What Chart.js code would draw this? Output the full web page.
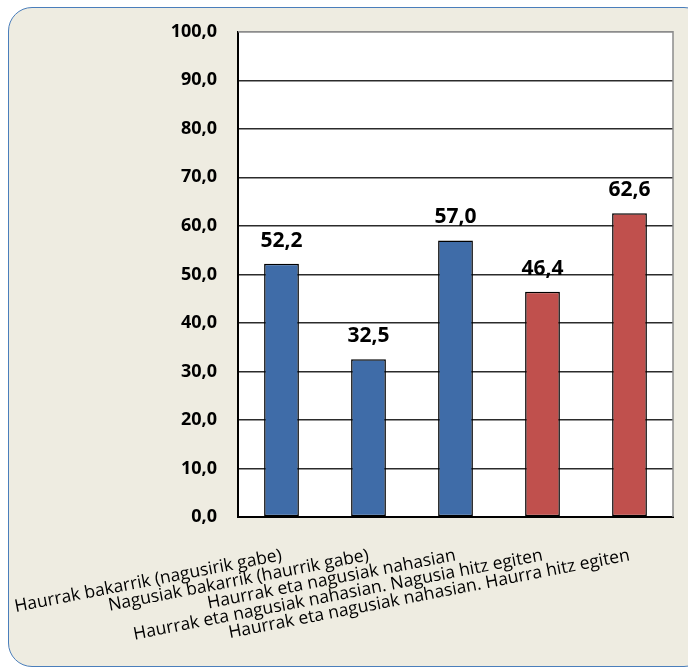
<!DOCTYPE html>
<html>
<head>
<meta charset="utf-8">
<script src="https://cdn.jsdelivr.net/npm/chart.js@4.4.1/dist/chart.umd.min.js"></script>
<style>
  html, body { margin: 0; padding: 0; width: 688px; height: 671px; overflow: hidden; background: #ffffff; }
  #frame { position: absolute; left: 8px; top: 7px; width: 700px; height: 660px; box-sizing: border-box;
           background: #EEECE1; border: 1.5px solid #4A7EBB; border-radius: 24px; }
  #wrap { position: absolute; left: 0; top: 0; width: 688px; height: 671px; }
</style>
</head>
<body>
<div id="frame"></div>
<div id="wrap"><canvas id="c" width="688" height="671"></canvas></div>
<script>
const categories = [
  'Haurrak bakarrik (nagusirik gabe)',
  'Nagusiak bakarrik (haurrik gabe)',
  'Haurrak eta nagusiak nahasian',
  'Haurrak eta nagusiak nahasian. Nagusia hitz egiten',
  'Haurrak eta nagusiak nahasian. Haurra hitz egiten'
];
const values = [52.2, 32.5, 57.0, 46.4, 62.6];
const yTicks = [0, 10, 20, 30, 40, 50, 60, 70, 80, 90, 100];

const BLUE = '#3F6CA8';
const RED = '#C0504D';
const barColors = [BLUE, BLUE, BLUE, RED, RED];

const fmt = v => Number(v).toFixed(1).replace('.', ',');

const framePlugin = {
  id: 'framePlugin',
  beforeDraw(chart) {
    const { ctx, chartArea: a } = chart;
    ctx.save();
    ctx.fillStyle = '#ffffff';
    ctx.fillRect(a.left, a.top, a.right - a.left, a.bottom - a.top);
    ctx.restore();
  },
  afterDraw(chart) {
    const { ctx, chartArea: a } = chart;
    ctx.save();
    ctx.strokeStyle = '#8C8C8C';
    ctx.lineWidth = 1.5;
    ctx.beginPath();
    ctx.moveTo(a.left, a.top);
    ctx.lineTo(a.right, a.top);
    ctx.lineTo(a.right, a.bottom);
    ctx.stroke();
    ctx.restore();
  }
};

const valueLabels = {
  id: 'valueLabels',
  afterDatasetsDraw(chart) {
    const { ctx } = chart;
    const meta = chart.getDatasetMeta(0);
    ctx.save();
    ctx.font = 'bold 21px "Open Sans"';
    ctx.fillStyle = '#000';
    ctx.textAlign = 'center';
    ctx.textBaseline = 'alphabetic';
    meta.data.forEach((bar, i) => {
      ctx.fillText(fmt(chart.data.datasets[0].data[i]), bar.x, bar.y - 17);
    });
    ctx.restore();
  }
};

new Chart(document.getElementById('c'), {
  type: 'bar',
  data: {
    labels: categories,
    datasets: [{
      data: values,
      backgroundColor: barColors,
      borderColor: '#000',
      borderWidth: 1.5,
      borderSkipped: false,
      barPercentage: 0.4,
      categoryPercentage: 1.0
    }]
  },
  options: {
    responsive: false,
    animation: false,
    devicePixelRatio: 1,
    layout: { padding: { left: 0, top: 30, right: 15, bottom: 0 } },
    plugins: { legend: { display: false }, tooltip: { enabled: false } },
    scales: {
      x: {
        grid: { display: false },
        border: { display: true, color: '#000', width: 2 },
        ticks: {
          autoSkip: false,
          minRotation: 11,
          maxRotation: 11,
          padding: 20,
          color: '#000',
          font: { family: '"Open Sans"', size: 17.5 }
        },
        afterFit(s) { s.height = 154; s.paddingLeft = 0; s.paddingRight = 0; }
      },
      y: {
        min: 0,
        max: 100,
        afterBuildTicks(s) { s.ticks = yTicks.map(v => ({ value: v })); },
        grid: {
          drawTicks: false,
          color: ctx => (ctx.tick && ctx.tick.value === 100) ? '#8C8C8C' : '#2B2B2B',
          lineWidth: 1.5
        },
        border: { display: true, color: '#000', width: 2 },
        ticks: {
          padding: 21,
          color: '#000',
          font: { family: '"Open Sans"', size: 18, weight: 'bold' },
          callback: v => fmt(v)
        },
        afterFit(s) { s.width = 238; }
      }
    }
  },
  plugins: [framePlugin, valueLabels]
});
</script>
</body>
</html>
